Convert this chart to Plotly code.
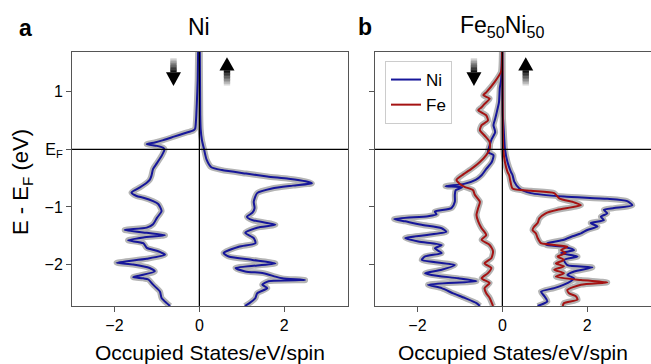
import plotly.graph_objects as go

# ---------------- data ----------------
# Panel a: Ni, spin down (negative DOS) and spin up (positive DOS)
E_a_dn = [1.70, 1.20, 0.80, 0.50, 0.36, 0.33, 0.28, 0.22, 0.16, 0.12, 0.09, 0.06, 0.03, 0.00,
          -0.10, -0.24, -0.34, -0.46, -0.53, -0.58, -0.66, -0.75, -0.81, -0.84, -0.90, -0.95,
          -1.07, -1.19, -1.30, -1.36, -1.40, -1.45, -1.49, -1.53, -1.58, -1.63, -1.71, -1.77,
          -1.83, -1.90, -1.97, -2.00, -2.06, -2.12, -2.19, -2.22, -2.24, -2.26, -2.35, -2.47,
          -2.58, -2.67, -2.72]
ni_a_dn = [-0.03, -0.04, -0.06, -0.08, -0.10, -0.14, -0.35, -0.60, -0.85, -1.05, -1.24, -1.00,
           -0.86, -0.82, -0.88, -1.00, -1.09, -1.13, -1.17, -1.24, -1.40, -1.60, -1.48, -1.32,
           -1.09, -0.97, -0.89, -1.00, -1.09, -1.24, -1.76, -1.24, -0.81, -1.32, -1.68, -1.32,
           -1.24, -0.97, -0.81, -1.24, -1.95, -1.56, -1.17, -1.05, -1.40, -1.56, -1.32, -1.20,
           -1.09, -0.93, -0.89, -0.77, -0.69]

E_a_up = [1.70, 0.60, 0.35, 0.16, 0.00, -0.18, -0.31, -0.36, -0.42, -0.47, -0.51, -0.555, -0.59,
          -0.63, -0.68, -0.76, -0.91, -1.02, -1.10, -1.17, -1.23, -1.31, -1.36, -1.45, -1.54,
          -1.63, -1.69, -1.80, -1.86, -1.92, -1.98, -2.06, -2.12, -2.15, -2.21, -2.24, -2.27,
          -2.29, -2.35, -2.41, -2.50, -2.58, -2.67, -2.72]
ni_a_up = [0.01, 0.02, 0.03, 0.06, 0.11, 0.17, 0.28, 0.53, 1.10, 1.60, 2.10, 2.50, 2.65,
           2.20, 1.71, 1.36, 1.28, 1.30, 1.25, 1.12, 1.25, 1.79, 1.36, 1.08, 1.28,
           1.32, 0.93, 0.57, 0.69, 1.25, 1.79, 0.85, 1.08, 1.51, 1.79, 1.95, 2.49,
           1.63, 1.48, 1.60, 1.36, 1.32, 1.18, 1.07]

# Panel b: Fe50Ni50, Ni- and Fe-projected, spin down
E_b_ni_dn = [1.70, 1.20, 1.07, 0.82, 0.65, 0.53, 0.42, 0.30, 0.18, 0.07, -0.05, -0.10, -0.22,
             -0.34, -0.45, -0.53, -0.60, -0.64, -0.66, -0.71, -0.79, -0.91, -1.02, -1.08, -1.13,
             -1.16, -1.21, -1.25, -1.31, -1.37, -1.43, -1.49, -1.54, -1.60, -1.66, -1.72, -1.80,
             -1.86, -1.92, -2.01, -2.09, -2.15, -2.18, -2.24, -2.29, -2.35, -2.41, -2.50, -2.58,
             -2.67, -2.72]
ni_b_dn = [-0.01, -0.03, -0.06, -0.08, -0.13, -0.17, -0.21, -0.17, -0.25, -0.30, -0.34, -0.21,
           -0.25, -0.38, -0.49, -0.63, -0.90, -1.34, -0.95, -1.10, -1.12, -1.12, -1.20, -1.59,
           -1.55, -1.75, -2.55, -2.29, -1.90, -1.43, -1.32, -1.82, -2.29, -1.98, -1.43, -1.59,
           -1.43, -1.82, -1.90, -1.12, -1.43, -1.82, -1.67, -1.04, -0.61, -1.75, -1.43, -1.16,
           -0.89, -0.61, -0.53]

E_b_fe_dn = [1.70, 1.35, 1.17, 0.99, 0.94, 0.88, 0.79, 0.73, 0.68, 0.59, 0.50, 0.42, 0.33, 0.24,
             0.13, 0.00, -0.10, -0.22, -0.34, -0.45, -0.53, -0.60, -0.65, -0.71, -0.79, -0.91,
             -1.02, -1.14, -1.25, -1.37, -1.49, -1.57, -1.66, -1.77, -1.89, -1.98, -2.06, -2.15,
             -2.24, -2.32, -2.41, -2.50, -2.58, -2.72]
fe_b_dn = [-0.01, -0.03, -0.18, -0.38, -0.45, -0.30, -0.42, -0.49, -0.57, -0.38, -0.34, -0.49,
           -0.53, -0.42, -0.30, -0.30, -0.38, -0.53, -0.73, -0.95, -1.08, -1.00, -0.89, -0.69,
           -0.65, -0.53, -0.57, -0.61, -0.57, -0.49, -0.38, -0.49, -0.30, -0.22, -0.26, -0.42,
           -0.26, -0.34, -0.49, -0.30, -0.42, -0.38, -0.30, -0.22]

# Panel b: spin up
E_b_ni_up = [1.70, 0.60, 0.36, 0.01, -0.22, -0.39, -0.45, -0.56, -0.68, -0.76, -0.82, -0.86,
             -0.90, -0.97, -1.02, -1.05, -1.11, -1.17, -1.23, -1.28, -1.34, -1.40, -1.46, -1.51,
             -1.57, -1.63, -1.66, -1.69, -1.75, -1.80, -1.86, -1.92, -2.01, -2.05, -2.12, -2.18,
             -2.24, -2.29, -2.35, -2.41, -2.47, -2.55, -2.64, -2.72]
ni_b_up = [0.00, 0.01, 0.03, 0.06, 0.12, 0.20, 0.24, 0.28, 0.40, 0.67, 1.45, 2.47,
           2.94, 3.06, 2.63, 2.39, 2.47, 2.32, 2.39, 2.08, 2.24, 2.00, 1.85, 1.65,
           1.45, 1.06, 1.03, 1.45, 1.69, 1.38, 1.77, 1.45, 1.53, 2.12, 1.69, 1.53,
           1.69, 1.61, 1.45, 1.22, 0.91, 0.99, 1.06, 0.83]

E_b_fe_up = [1.70, 0.30, 0.01, -0.22, -0.39, -0.45, -0.56, -0.68, -0.72, -0.76, -0.85, -0.92,
             -0.97, -1.05, -1.11, -1.20, -1.28, -1.34, -1.40, -1.46, -1.54, -1.63, -1.69, -1.75,
             -1.80, -1.86, -1.92, -1.98, -2.03, -2.09, -2.15, -2.21, -2.27, -2.31, -2.35, -2.44,
             -2.50, -2.55, -2.61, -2.67, -2.72]
fe_b_up = [0.00, 0.01, 0.02, 0.06, 0.12, 0.16, 0.19, 0.24, 0.67, 1.22, 1.34, 1.69,
           1.85, 1.30, 1.02, 0.87, 0.83, 0.75, 0.71, 0.79, 0.83, 0.91, 1.53, 1.38,
           1.49, 1.30, 1.45, 1.26, 1.45, 1.22, 1.45, 1.26, 1.85, 2.47, 1.85, 1.53,
           1.57, 1.73, 1.77, 1.45, 1.42]

x_ticks = [-2, 0, 2]
y_ticks = [1, 0, -1, -2]
y_tick_text = ["1", "E<sub>F</sub>", "\u22121", "\u22122"]

# ---------------- styling ----------------
BLUE = "#16169a"
RED = "#a51313"
GREY = "#b4b4b4"
FRAME = "#555555"
FONT = "Liberation Sans, Arial, sans-serif"

fig = go.Figure()

curves = [
    (ni_a_dn, E_a_dn, BLUE, "x", "y", None),
    (ni_a_up, E_a_up, BLUE, "x", "y", None),
    (ni_b_dn, E_b_ni_dn, BLUE, "x2", "y2", "Ni"),
    (ni_b_up, E_b_ni_up, BLUE, "x2", "y2", None),
    (fe_b_dn, E_b_fe_dn, RED, "x2", "y2", "Fe"),
    (fe_b_up, E_b_fe_up, RED, "x2", "y2", None),
]

LINE_SHAPE = dict(shape="spline", smoothing=0.6)

# grey halos underneath
for xs, ys, col, xa, ya, nm in curves:
    fig.add_trace(go.Scatter(x=xs, y=ys, mode="lines", xaxis=xa, yaxis=ya,
                             line=dict(color=GREY, width=6, **LINE_SHAPE), showlegend=False,
                             name="halo", hoverinfo="skip"))
# coloured curves
for xs, ys, col, xa, ya, nm in curves:
    fig.add_trace(go.Scatter(x=xs, y=ys, mode="lines", xaxis=xa, yaxis=ya,
                             line=dict(color=col, width=2, **LINE_SHAPE),
                             name=nm if nm else "DOS", showlegend=nm is not None))

shapes = []
# E_F horizontal line and x = 0 vertical line in each panel
for xa, ya in (("x", "y"), ("x2", "y2")):
    shapes.append(dict(type="line", xref=xa + " domain", yref=ya, x0=0, x1=1, y0=0, y1=0,
                       line=dict(color="black", width=1.3), layer="above"))
    shapes.append(dict(type="line", xref=xa, yref=ya + " domain", x0=0, x1=0, y0=0, y1=1,
                       line=dict(color="black", width=1.3), layer="above"))

# spin arrows with grey->black gradient shafts
PX_X = 1 / 42.5   # data units per pixel (x)


def arrow(xa, ya, xc, down):
    hw_shaft = 3.2 * PX_X
    hw_head = 7.5 * PX_X
    if down:
        y_tail, y_base, y_tip = 1.58, 1.34, 1.10
    else:
        y_tail, y_base, y_tip = 1.11, 1.37, 1.60
    n = 10
    for i in range(n):
        t0 = i / n
        t1 = (i + 1) / n
        ya0 = y_tail + (y_base - y_tail) * t0
        ya1 = y_tail + (y_base - y_tail) * t1
        g = int(240 - 230 * ((i + 0.5) / n) ** 0.8)
        lo, hi = min(ya0, ya1), max(ya0, ya1)
        shapes.append(dict(type="rect", xref=xa, yref=ya, x0=xc - hw_shaft, x1=xc + hw_shaft,
                           y0=lo - 0.003, y1=hi + 0.003,
                           line=dict(width=0), fillcolor=f"rgb({g},{g},{g})", layer="above"))
    shapes.append(dict(type="path", xref=xa, yref=ya,
                       path=f"M {xc - hw_head},{y_base} L {xc + hw_head},{y_base} L {xc},{y_tip} Z",
                       line=dict(width=0), fillcolor="black", layer="above"))


arrow("x", "y", -0.61, True)
arrow("x", "y", 0.65, False)
arrow("x2", "y2", -0.67, True)
arrow("x2", "y2", 0.55, False)


def ann(text, x, xref, y, size, bold=False, angle=0):
    return dict(text=f"<b>{text}</b>" if bold else text, x=x, xref=xref, y=y, yref="paper",
                xanchor="center", yanchor="middle", showarrow=False, textangle=angle,
                font=dict(size=size, color="black", family=FONT))


annotations = [
    ann("Ni", 0, "x", 1 - 27 / 364, 23),
    ann("Fe<sub>50</sub>Ni<sub>50</sub>", 0, "x2", 1 - 27 / 364, 23),
    ann("a", 25 / 651, "paper", 1 - 28 / 364, 23, bold=True),
    ann("b", 365 / 651, "paper", 1 - 27 / 364, 23, bold=True),
    ann("E - E<sub>F</sub> (eV)", 22 / 651, "paper", 1 - 182 / 364, 22, angle=-90),
    ann("Occupied States/eV/spin", 210 / 651, "paper", 1 - 352 / 364, 21),
    ann("Occupied States/eV/spin", 513 / 651, "paper", 1 - 352 / 364, 21),
]

axis_common = dict(showline=True, mirror=True, linecolor=FRAME, linewidth=1,
                   ticks="outside", ticklen=5, tickwidth=1, tickcolor=FRAME,
                   showgrid=False, zeroline=False,
                   tickfont=dict(size=16, color="black", family=FONT))

Y_DOM = [1 - 306 / 364, 1 - 52 / 364]

fig.update_layout(
    width=651, height=364,
    margin=dict(l=0, r=0, t=0, b=0),
    paper_bgcolor="white", plot_bgcolor="white",
    font=dict(family=FONT, color="black"),
    xaxis=dict(domain=[72 / 651, 348 / 651], range=[-3, 3.5], tickvals=x_ticks,
               anchor="y", **axis_common),
    yaxis=dict(domain=Y_DOM, range=[-2.72, 1.69], tickvals=y_ticks, ticktext=y_tick_text,
               anchor="x", **axis_common),
    xaxis2=dict(domain=[375 / 651, 1.0], range=[-3, 3.5], tickvals=x_ticks,
                anchor="y2", **axis_common),
    yaxis2=dict(domain=Y_DOM, range=[-2.72, 1.69], tickvals=y_ticks, showticklabels=False,
                anchor="x2", **axis_common),
    shapes=shapes,
    annotations=annotations,
    legend=dict(x=385 / 651, y=1 - 61 / 364, xanchor="left", yanchor="top",
                bgcolor="white", bordercolor="#cccccc", borderwidth=1,
                font=dict(size=17, color="black", family=FONT),
                itemwidth=30, tracegroupgap=0),
    showlegend=True,
    hovermode=False,
)

fig.write_html("out.html", config={"displayModeBar": False},
               post_script="document.body.style.margin='0';")
